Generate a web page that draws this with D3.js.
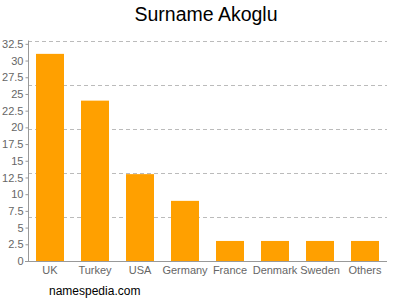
<!DOCTYPE html>
<html>
<head>
<meta charset="utf-8">
<script src="https://cdn.jsdelivr.net/npm/d3@7"></script>
<style>
  body { margin: 0; background: #fff; }
  text { font-family: "Liberation Sans", Arial, sans-serif; }
</style>
</head>
<body>
<svg width="400" height="300"></svg>
<script>
var countries = ["UK", "Turkey", "USA", "Germany", "France", "Denmark", "Sweden", "Others"];
var counts = [31, 24, 13, 9, 3, 3, 3, 3];
var yTicks = [0, 2.5, 5, 7.5, 10, 12.5, 15, 17.5, 20, 22.5, 25, 27.5, 30, 32.5];
var yMax = 33;
var gridCount = 5;

var svg = d3.select("svg");

var x = d3.scaleBand()
          .domain(countries)
          .range([27.5, 387.5])
          .paddingInner(0.378)
          .paddingOuter(0.189);

var y = d3.scaleLinear()
          .domain([0, yMax])
          .range([261, 40.5]);

// dashed grid lines
var gridVals = d3.range(1, gridCount + 1).map(function(i){ return yMax * i / gridCount; });
svg.append("g")
   .selectAll("line")
   .data(gridVals)
   .enter()
   .append("line")
   .attr("x1", 28)
   .attr("x2", 387)
   .attr("y1", function(d){ return Math.round(y(d)) + 0.5; })
   .attr("y2", function(d){ return Math.round(y(d)) + 0.5; })
   .attr("stroke", "#bbb")
   .attr("stroke-dasharray", "4,3");

// bars
svg.append("g")
   .selectAll("rect")
   .data(counts)
   .enter()
   .append("rect")
   .attr("x", function(d, i){ return x(countries[i]); })
   .attr("y", function(d){ return y(d); })
   .attr("width", x.bandwidth())
   .attr("height", function(d){ return y(0) - y(d); })
   .attr("fill", "#ffa000");

// y axis
var yAxis = svg.append("g")
   .attr("transform", "translate(28.5,0)")
   .call(d3.axisLeft(y).tickValues(yTicks).tickSize(3).tickPadding(2).tickFormat(d3.format("")));
yAxis.select(".domain").attr("stroke", "#999").attr("d", "M0," + y(yMax) + "V" + y(0));
yAxis.selectAll(".tick line").attr("stroke", "#999");
yAxis.selectAll("text").attr("fill", "#666").style("font-size", "11px");

// x axis
var xAxis = svg.append("g")
   .attr("transform", "translate(0,261.5)")
   .call(d3.axisBottom(x).tickSize(0).tickPadding(5));
xAxis.select(".domain").attr("stroke", "#999").attr("d", "M25,0H387");
xAxis.selectAll("text").attr("fill", "#666").style("font-size", "11px");

// title
svg.append("text")
   .attr("x", 206)
   .attr("y", 21)
   .attr("text-anchor", "middle")
   .attr("fill", "#000")
   .style("font-size", "19.5px")
   .text("Surname Akoglu");

// footer
svg.append("text")
   .attr("x", 49)
   .attr("y", 295)
   .attr("fill", "#000")
   .style("font-size", "12px")
   .text("namespedia.com");
</script>
</body>
</html>
